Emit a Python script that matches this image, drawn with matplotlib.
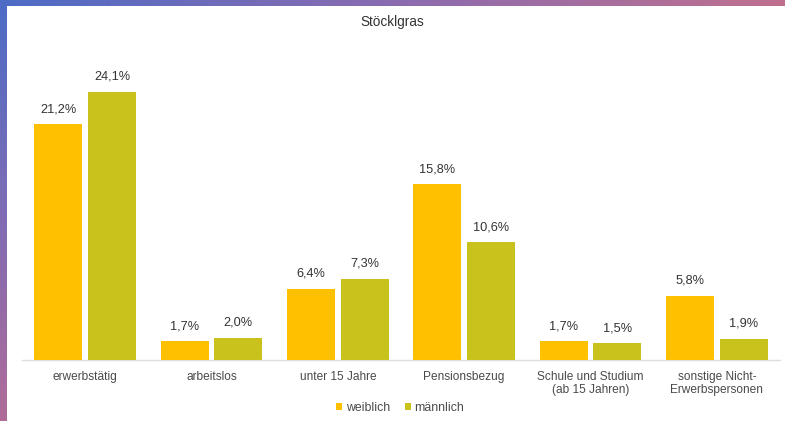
import numpy as np
import matplotlib
matplotlib.use('Agg')
import matplotlib.pyplot as plt
from matplotlib.colors import LinearSegmentedColormap

# ── Data ─────────────────────────────────────────────────────────────
categories = ["erwerbstätig", "arbeitslos", "unter 15 Jahre", "Pensionsbezug",
              "Schule und Studium\n(ab 15 Jahren)", "sonstige Nicht-\nErwerbspersonen"]
weiblich = [21.2, 1.7, 6.4, 15.8, 1.7, 5.8]
maennlich = [24.1, 2.0, 7.3, 10.6, 1.5, 1.9]
series_names = ["weiblich", "männlich"]

COL_W = "#FFC000"
COL_M = "#C9C11C"
TXT = "#4a4a4a"

plt.rcParams['font.family'] = ['Liberation Sans', 'DejaVu Sans']

fig = plt.figure(figsize=(7.85, 4.21), dpi=100)
W, H = 785, 421

# ── Gradient frame (top and left strips) ─────────────────────────────
top_cmap = LinearSegmentedColormap.from_list("top", ["#4d6cc6", "#8a6bb0", "#c0708e"])
left_cmap = LinearSegmentedColormap.from_list("left", ["#4d6cc6", "#7f6cb4", "#b06b98"])

ax_top = fig.add_axes([0, 1 - 6 / H, 1, 6 / H])
ax_top.imshow(np.linspace(0, 1, 256)[None, :], aspect='auto', cmap=top_cmap)
ax_top.axis('off')

ax_left = fig.add_axes([0, 0, 7 / W, 1 - 6 / H])
ax_left.imshow(np.linspace(0, 1, 256)[:, None], aspect='auto', cmap=left_cmap)
ax_left.axis('off')

# ── Bars ─────────────────────────────────────────────────────────────
y_top = 26.0
px_per_pct = 11.12
ax_h = y_top * px_per_pct
ax = fig.add_axes([22 / W, (H - 360) / H, 758 / W, ax_h / H])

x = np.arange(len(categories))
bw = 0.38
off = 0.212
bars_w = ax.bar(x - off, weiblich, bw, color=COL_W, label=series_names[0], zorder=3)
bars_m = ax.bar(x + off, maennlich, bw, color=COL_M, label=series_names[1], zorder=3)

for bars, vals in ((bars_w, weiblich), (bars_m, maennlich)):
    for b, v in zip(bars, vals):
        ax.annotate(f"{v:.1f}%".replace(".", ","),
                    (b.get_x() + b.get_width() / 2, v),
                    xytext=(0, 6.5), textcoords='offset points',
                    ha='center', va='bottom', fontsize=9.2, color="#333333")

ax.set_xlim(-0.5, len(categories) - 0.5)
ax.set_ylim(0, y_top)
ax.set_yticks([])
ax.set_xticks(x)
ax.set_xticklabels(categories, fontsize=8.6, color=TXT, linespacing=1.1)
ax.tick_params(axis='x', length=0, pad=8)
for s in ("top", "right", "left"):
    ax.spines[s].set_visible(False)
ax.spines['bottom'].set_color("#dddddd")
ax.spines['bottom'].set_linewidth(1.0)

fig.text(392 / W, 1 - 22 / H, "Stöcklgras", ha='center', va='center',
         fontsize=9.8, color="#333333")

fig.legend(handles=[bars_w, bars_m], labels=series_names, loc='center',
           bbox_to_anchor=(400 / W, 1 - 408 / H), ncol=2, frameon=False,
           fontsize=8.8, handlelength=0.5, handleheight=0.5,
           handletextpad=0.3, columnspacing=1.2, labelcolor=TXT)

fig.savefig("out.png", dpi=100)
